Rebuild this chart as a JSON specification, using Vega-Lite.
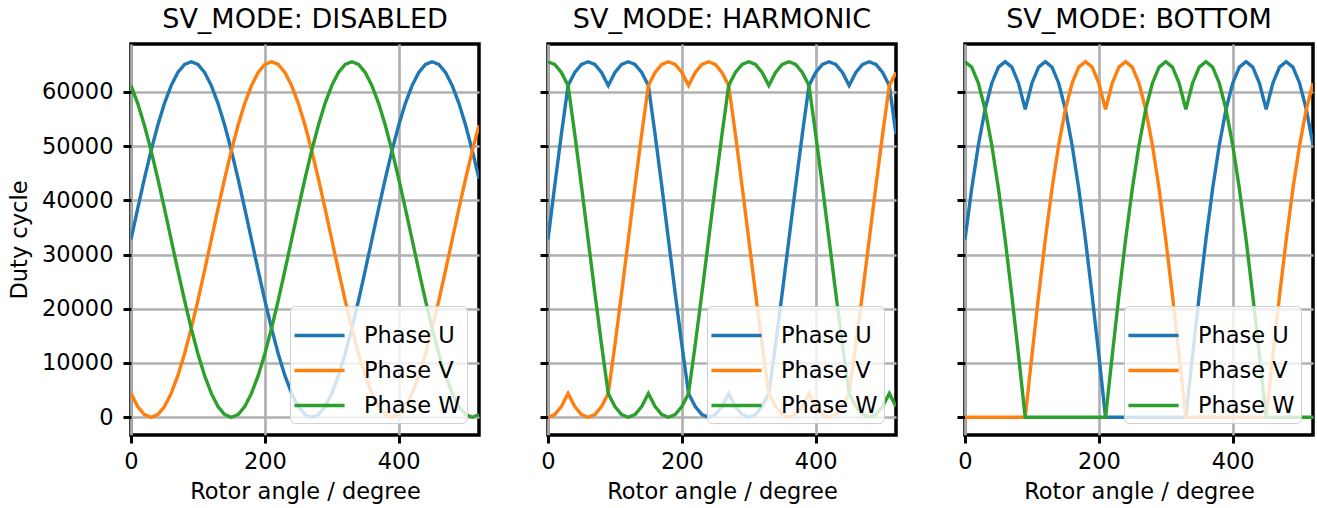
{
"$schema": "https://vega.github.io/schema/vega-lite/v6.json",
"padding": {"left": 6, "top": 4, "right": 3, "bottom": 5},
"config": {
  "font": "DejaVu Sans",
  "view": {"stroke": "black", "strokeWidth": 3.5},
  "axis": {"grid": true, "gridColor": "#b0b0b0", "gridWidth": 2.7, "domain": false, "tickColor": "black", "tickWidth": 3, "tickSize": 8, "labelFontSize": 22.5, "titleFontSize": 22.5, "labelColor": "black", "titleColor": "black", "titleFontWeight": "normal", "labelPadding": 7, "titlePadding": 8, "labelFlush": false},
  "axisY": {"labelPadding": 10, "titlePadding": 10},
  "legend": {"symbolType": "M-1.15,0H1.15", "symbolSize": 1900, "symbolStrokeWidth": 3.4, "labelFontSize": 22.5, "labelColor": "black", "padding": 6, "rowPadding": -7, "strokeColor": "#d0d0d0", "fillColor": "rgba(255,255,255,0.8)", "cornerRadius": 5, "offset": 12, "labelOffset": 21},
  "title": {"fontSize": 27, "fontWeight": "normal", "offset": 10, "color": "black"}
},
"data": {"values": [
{"m":"D","p":"U","x":0,"y":32768},{"m":"D","p":"U","x":10,"y":38458},{"m":"D","p":"U","x":20,"y":43975},{"m":"D","p":"U","x":30,"y":49151},{"m":"D","p":"U","x":40,"y":53830},{"m":"D","p":"U","x":50,"y":57869},{"m":"D","p":"U","x":60,"y":61145},{"m":"D","p":"U","x":70,"y":63559},{"m":"D","p":"U","x":80,"y":65037},{"m":"D","p":"U","x":90,"y":65535},{"m":"D","p":"U","x":100,"y":65037},{"m":"D","p":"U","x":110,"y":63559},{"m":"D","p":"U","x":120,"y":61145},{"m":"D","p":"U","x":130,"y":57869},{"m":"D","p":"U","x":140,"y":53830},{"m":"D","p":"U","x":150,"y":49151},{"m":"D","p":"U","x":160,"y":43975},{"m":"D","p":"U","x":170,"y":38458},{"m":"D","p":"U","x":180,"y":32768},{"m":"D","p":"U","x":190,"y":27077},{"m":"D","p":"U","x":200,"y":21560},{"m":"D","p":"U","x":210,"y":16384},{"m":"D","p":"U","x":220,"y":11705},{"m":"D","p":"U","x":230,"y":7666},{"m":"D","p":"U","x":240,"y":4390},{"m":"D","p":"U","x":250,"y":1976},{"m":"D","p":"U","x":260,"y":498},{"m":"D","p":"U","x":270,"y":0},{"m":"D","p":"U","x":280,"y":498},{"m":"D","p":"U","x":290,"y":1976},{"m":"D","p":"U","x":300,"y":4390},{"m":"D","p":"U","x":310,"y":7666},{"m":"D","p":"U","x":320,"y":11705},{"m":"D","p":"U","x":330,"y":16384},{"m":"D","p":"U","x":340,"y":21560},{"m":"D","p":"U","x":350,"y":27077},{"m":"D","p":"U","x":360,"y":32768},{"m":"D","p":"U","x":370,"y":38458},{"m":"D","p":"U","x":380,"y":43975},{"m":"D","p":"U","x":390,"y":49151},{"m":"D","p":"U","x":400,"y":53830},{"m":"D","p":"U","x":410,"y":57869},{"m":"D","p":"U","x":420,"y":61145},{"m":"D","p":"U","x":430,"y":63559},{"m":"D","p":"U","x":440,"y":65037},{"m":"D","p":"U","x":450,"y":65535},{"m":"D","p":"U","x":460,"y":65037},{"m":"D","p":"U","x":470,"y":63559},{"m":"D","p":"U","x":480,"y":61145},{"m":"D","p":"U","x":490,"y":57869},{"m":"D","p":"U","x":500,"y":53830},{"m":"D","p":"U","x":510,"y":49151},{"m":"D","p":"U","x":520,"y":43975},
{"m":"D","p":"V","x":0,"y":4390},{"m":"D","p":"V","x":10,"y":1976},{"m":"D","p":"V","x":20,"y":498},{"m":"D","p":"V","x":30,"y":0},{"m":"D","p":"V","x":40,"y":498},{"m":"D","p":"V","x":50,"y":1976},{"m":"D","p":"V","x":60,"y":4390},{"m":"D","p":"V","x":70,"y":7666},{"m":"D","p":"V","x":80,"y":11705},{"m":"D","p":"V","x":90,"y":16384},{"m":"D","p":"V","x":100,"y":21560},{"m":"D","p":"V","x":110,"y":27077},{"m":"D","p":"V","x":120,"y":32768},{"m":"D","p":"V","x":130,"y":38458},{"m":"D","p":"V","x":140,"y":43975},{"m":"D","p":"V","x":150,"y":49151},{"m":"D","p":"V","x":160,"y":53830},{"m":"D","p":"V","x":170,"y":57869},{"m":"D","p":"V","x":180,"y":61145},{"m":"D","p":"V","x":190,"y":63559},{"m":"D","p":"V","x":200,"y":65037},{"m":"D","p":"V","x":210,"y":65535},{"m":"D","p":"V","x":220,"y":65037},{"m":"D","p":"V","x":230,"y":63559},{"m":"D","p":"V","x":240,"y":61145},{"m":"D","p":"V","x":250,"y":57869},{"m":"D","p":"V","x":260,"y":53830},{"m":"D","p":"V","x":270,"y":49151},{"m":"D","p":"V","x":280,"y":43975},{"m":"D","p":"V","x":290,"y":38458},{"m":"D","p":"V","x":300,"y":32768},{"m":"D","p":"V","x":310,"y":27077},{"m":"D","p":"V","x":320,"y":21560},{"m":"D","p":"V","x":330,"y":16384},{"m":"D","p":"V","x":340,"y":11705},{"m":"D","p":"V","x":350,"y":7666},{"m":"D","p":"V","x":360,"y":4390},{"m":"D","p":"V","x":370,"y":1976},{"m":"D","p":"V","x":380,"y":498},{"m":"D","p":"V","x":390,"y":0},{"m":"D","p":"V","x":400,"y":498},{"m":"D","p":"V","x":410,"y":1976},{"m":"D","p":"V","x":420,"y":4390},{"m":"D","p":"V","x":430,"y":7666},{"m":"D","p":"V","x":440,"y":11705},{"m":"D","p":"V","x":450,"y":16384},{"m":"D","p":"V","x":460,"y":21560},{"m":"D","p":"V","x":470,"y":27077},{"m":"D","p":"V","x":480,"y":32768},{"m":"D","p":"V","x":490,"y":38458},{"m":"D","p":"V","x":500,"y":43975},{"m":"D","p":"V","x":510,"y":49151},{"m":"D","p":"V","x":520,"y":53830},
{"m":"D","p":"W","x":0,"y":61145},{"m":"D","p":"W","x":10,"y":57869},{"m":"D","p":"W","x":20,"y":53830},{"m":"D","p":"W","x":30,"y":49151},{"m":"D","p":"W","x":40,"y":43975},{"m":"D","p":"W","x":50,"y":38458},{"m":"D","p":"W","x":60,"y":32768},{"m":"D","p":"W","x":70,"y":27077},{"m":"D","p":"W","x":80,"y":21560},{"m":"D","p":"W","x":90,"y":16384},{"m":"D","p":"W","x":100,"y":11705},{"m":"D","p":"W","x":110,"y":7666},{"m":"D","p":"W","x":120,"y":4390},{"m":"D","p":"W","x":130,"y":1976},{"m":"D","p":"W","x":140,"y":498},{"m":"D","p":"W","x":150,"y":0},{"m":"D","p":"W","x":160,"y":498},{"m":"D","p":"W","x":170,"y":1976},{"m":"D","p":"W","x":180,"y":4390},{"m":"D","p":"W","x":190,"y":7666},{"m":"D","p":"W","x":200,"y":11705},{"m":"D","p":"W","x":210,"y":16384},{"m":"D","p":"W","x":220,"y":21560},{"m":"D","p":"W","x":230,"y":27077},{"m":"D","p":"W","x":240,"y":32768},{"m":"D","p":"W","x":250,"y":38458},{"m":"D","p":"W","x":260,"y":43975},{"m":"D","p":"W","x":270,"y":49151},{"m":"D","p":"W","x":280,"y":53830},{"m":"D","p":"W","x":290,"y":57869},{"m":"D","p":"W","x":300,"y":61145},{"m":"D","p":"W","x":310,"y":63559},{"m":"D","p":"W","x":320,"y":65037},{"m":"D","p":"W","x":330,"y":65535},{"m":"D","p":"W","x":340,"y":65037},{"m":"D","p":"W","x":350,"y":63559},{"m":"D","p":"W","x":360,"y":61145},{"m":"D","p":"W","x":370,"y":57869},{"m":"D","p":"W","x":380,"y":53830},{"m":"D","p":"W","x":390,"y":49151},{"m":"D","p":"W","x":400,"y":43975},{"m":"D","p":"W","x":410,"y":38458},{"m":"D","p":"W","x":420,"y":32768},{"m":"D","p":"W","x":430,"y":27077},{"m":"D","p":"W","x":440,"y":21560},{"m":"D","p":"W","x":450,"y":16384},{"m":"D","p":"W","x":460,"y":11705},{"m":"D","p":"W","x":470,"y":7666},{"m":"D","p":"W","x":480,"y":4390},{"m":"D","p":"W","x":490,"y":1976},{"m":"D","p":"W","x":500,"y":498},{"m":"D","p":"W","x":510,"y":0},{"m":"D","p":"W","x":520,"y":498},
{"m":"H","p":"U","x":0,"y":32768},{"m":"H","p":"U","x":10,"y":42623},{"m":"H","p":"U","x":20,"y":52179},{"m":"H","p":"U","x":30,"y":61145},{"m":"H","p":"U","x":40,"y":63559},{"m":"H","p":"U","x":50,"y":65037},{"m":"H","p":"U","x":60,"y":65535},{"m":"H","p":"U","x":70,"y":65037},{"m":"H","p":"U","x":80,"y":63559},{"m":"H","p":"U","x":90,"y":61145},{"m":"H","p":"U","x":100,"y":63559},{"m":"H","p":"U","x":110,"y":65037},{"m":"H","p":"U","x":120,"y":65535},{"m":"H","p":"U","x":130,"y":65037},{"m":"H","p":"U","x":140,"y":63559},{"m":"H","p":"U","x":150,"y":61145},{"m":"H","p":"U","x":160,"y":52179},{"m":"H","p":"U","x":170,"y":42623},{"m":"H","p":"U","x":180,"y":32768},{"m":"H","p":"U","x":190,"y":22912},{"m":"H","p":"U","x":200,"y":13356},{"m":"H","p":"U","x":210,"y":4390},{"m":"H","p":"U","x":220,"y":1976},{"m":"H","p":"U","x":230,"y":498},{"m":"H","p":"U","x":240,"y":0},{"m":"H","p":"U","x":250,"y":498},{"m":"H","p":"U","x":260,"y":1976},{"m":"H","p":"U","x":270,"y":4390},{"m":"H","p":"U","x":280,"y":1976},{"m":"H","p":"U","x":290,"y":498},{"m":"H","p":"U","x":300,"y":0},{"m":"H","p":"U","x":310,"y":498},{"m":"H","p":"U","x":320,"y":1976},{"m":"H","p":"U","x":330,"y":4390},{"m":"H","p":"U","x":340,"y":13356},{"m":"H","p":"U","x":350,"y":22912},{"m":"H","p":"U","x":360,"y":32768},{"m":"H","p":"U","x":370,"y":42623},{"m":"H","p":"U","x":380,"y":52179},{"m":"H","p":"U","x":390,"y":61145},{"m":"H","p":"U","x":400,"y":63559},{"m":"H","p":"U","x":410,"y":65037},{"m":"H","p":"U","x":420,"y":65535},{"m":"H","p":"U","x":430,"y":65037},{"m":"H","p":"U","x":440,"y":63559},{"m":"H","p":"U","x":450,"y":61145},{"m":"H","p":"U","x":460,"y":63559},{"m":"H","p":"U","x":470,"y":65037},{"m":"H","p":"U","x":480,"y":65535},{"m":"H","p":"U","x":490,"y":65037},{"m":"H","p":"U","x":500,"y":63559},{"m":"H","p":"U","x":510,"y":61145},{"m":"H","p":"U","x":520,"y":52179},
{"m":"H","p":"V","x":0,"y":0},{"m":"H","p":"V","x":10,"y":498},{"m":"H","p":"V","x":20,"y":1976},{"m":"H","p":"V","x":30,"y":4390},{"m":"H","p":"V","x":40,"y":1976},{"m":"H","p":"V","x":50,"y":498},{"m":"H","p":"V","x":60,"y":0},{"m":"H","p":"V","x":70,"y":498},{"m":"H","p":"V","x":80,"y":1976},{"m":"H","p":"V","x":90,"y":4390},{"m":"H","p":"V","x":100,"y":13356},{"m":"H","p":"V","x":110,"y":22912},{"m":"H","p":"V","x":120,"y":32768},{"m":"H","p":"V","x":130,"y":42623},{"m":"H","p":"V","x":140,"y":52179},{"m":"H","p":"V","x":150,"y":61145},{"m":"H","p":"V","x":160,"y":63559},{"m":"H","p":"V","x":170,"y":65037},{"m":"H","p":"V","x":180,"y":65535},{"m":"H","p":"V","x":190,"y":65037},{"m":"H","p":"V","x":200,"y":63559},{"m":"H","p":"V","x":210,"y":61145},{"m":"H","p":"V","x":220,"y":63559},{"m":"H","p":"V","x":230,"y":65037},{"m":"H","p":"V","x":240,"y":65535},{"m":"H","p":"V","x":250,"y":65037},{"m":"H","p":"V","x":260,"y":63559},{"m":"H","p":"V","x":270,"y":61145},{"m":"H","p":"V","x":280,"y":52179},{"m":"H","p":"V","x":290,"y":42623},{"m":"H","p":"V","x":300,"y":32768},{"m":"H","p":"V","x":310,"y":22912},{"m":"H","p":"V","x":320,"y":13356},{"m":"H","p":"V","x":330,"y":4390},{"m":"H","p":"V","x":340,"y":1976},{"m":"H","p":"V","x":350,"y":498},{"m":"H","p":"V","x":360,"y":0},{"m":"H","p":"V","x":370,"y":498},{"m":"H","p":"V","x":380,"y":1976},{"m":"H","p":"V","x":390,"y":4390},{"m":"H","p":"V","x":400,"y":1976},{"m":"H","p":"V","x":410,"y":498},{"m":"H","p":"V","x":420,"y":0},{"m":"H","p":"V","x":430,"y":498},{"m":"H","p":"V","x":440,"y":1976},{"m":"H","p":"V","x":450,"y":4390},{"m":"H","p":"V","x":460,"y":13356},{"m":"H","p":"V","x":470,"y":22912},{"m":"H","p":"V","x":480,"y":32768},{"m":"H","p":"V","x":490,"y":42623},{"m":"H","p":"V","x":500,"y":52179},{"m":"H","p":"V","x":510,"y":61145},{"m":"H","p":"V","x":520,"y":63559},
{"m":"H","p":"W","x":0,"y":65535},{"m":"H","p":"W","x":10,"y":65037},{"m":"H","p":"W","x":20,"y":63559},{"m":"H","p":"W","x":30,"y":61145},{"m":"H","p":"W","x":40,"y":52179},{"m":"H","p":"W","x":50,"y":42623},{"m":"H","p":"W","x":60,"y":32768},{"m":"H","p":"W","x":70,"y":22912},{"m":"H","p":"W","x":80,"y":13356},{"m":"H","p":"W","x":90,"y":4390},{"m":"H","p":"W","x":100,"y":1976},{"m":"H","p":"W","x":110,"y":498},{"m":"H","p":"W","x":120,"y":0},{"m":"H","p":"W","x":130,"y":498},{"m":"H","p":"W","x":140,"y":1976},{"m":"H","p":"W","x":150,"y":4390},{"m":"H","p":"W","x":160,"y":1976},{"m":"H","p":"W","x":170,"y":498},{"m":"H","p":"W","x":180,"y":0},{"m":"H","p":"W","x":190,"y":498},{"m":"H","p":"W","x":200,"y":1976},{"m":"H","p":"W","x":210,"y":4390},{"m":"H","p":"W","x":220,"y":13356},{"m":"H","p":"W","x":230,"y":22912},{"m":"H","p":"W","x":240,"y":32768},{"m":"H","p":"W","x":250,"y":42623},{"m":"H","p":"W","x":260,"y":52179},{"m":"H","p":"W","x":270,"y":61145},{"m":"H","p":"W","x":280,"y":63559},{"m":"H","p":"W","x":290,"y":65037},{"m":"H","p":"W","x":300,"y":65535},{"m":"H","p":"W","x":310,"y":65037},{"m":"H","p":"W","x":320,"y":63559},{"m":"H","p":"W","x":330,"y":61145},{"m":"H","p":"W","x":340,"y":63559},{"m":"H","p":"W","x":350,"y":65037},{"m":"H","p":"W","x":360,"y":65535},{"m":"H","p":"W","x":370,"y":65037},{"m":"H","p":"W","x":380,"y":63559},{"m":"H","p":"W","x":390,"y":61145},{"m":"H","p":"W","x":400,"y":52179},{"m":"H","p":"W","x":410,"y":42623},{"m":"H","p":"W","x":420,"y":32768},{"m":"H","p":"W","x":430,"y":22912},{"m":"H","p":"W","x":440,"y":13356},{"m":"H","p":"W","x":450,"y":4390},{"m":"H","p":"W","x":460,"y":1976},{"m":"H","p":"W","x":470,"y":498},{"m":"H","p":"W","x":480,"y":0},{"m":"H","p":"W","x":490,"y":498},{"m":"H","p":"W","x":500,"y":1976},{"m":"H","p":"W","x":510,"y":4390},{"m":"H","p":"W","x":520,"y":1976},
{"m":"B","p":"U","x":0,"y":32768},{"m":"B","p":"U","x":10,"y":42125},{"m":"B","p":"U","x":20,"y":50203},{"m":"B","p":"U","x":30,"y":56755},{"m":"B","p":"U","x":40,"y":61583},{"m":"B","p":"U","x":50,"y":64539},{"m":"B","p":"U","x":60,"y":65535},{"m":"B","p":"U","x":70,"y":64539},{"m":"B","p":"U","x":80,"y":61583},{"m":"B","p":"U","x":90,"y":56755},{"m":"B","p":"U","x":100,"y":61583},{"m":"B","p":"U","x":110,"y":64539},{"m":"B","p":"U","x":120,"y":65535},{"m":"B","p":"U","x":130,"y":64539},{"m":"B","p":"U","x":140,"y":61583},{"m":"B","p":"U","x":150,"y":56755},{"m":"B","p":"U","x":160,"y":50203},{"m":"B","p":"U","x":170,"y":42125},{"m":"B","p":"U","x":180,"y":32768},{"m":"B","p":"U","x":190,"y":22414},{"m":"B","p":"U","x":200,"y":11380},{"m":"B","p":"U","x":210,"y":0},{"m":"B","p":"U","x":220,"y":0},{"m":"B","p":"U","x":230,"y":0},{"m":"B","p":"U","x":240,"y":0},{"m":"B","p":"U","x":250,"y":0},{"m":"B","p":"U","x":260,"y":0},{"m":"B","p":"U","x":270,"y":0},{"m":"B","p":"U","x":280,"y":0},{"m":"B","p":"U","x":290,"y":0},{"m":"B","p":"U","x":300,"y":0},{"m":"B","p":"U","x":310,"y":0},{"m":"B","p":"U","x":320,"y":0},{"m":"B","p":"U","x":330,"y":0},{"m":"B","p":"U","x":340,"y":11380},{"m":"B","p":"U","x":350,"y":22414},{"m":"B","p":"U","x":360,"y":32768},{"m":"B","p":"U","x":370,"y":42125},{"m":"B","p":"U","x":380,"y":50203},{"m":"B","p":"U","x":390,"y":56755},{"m":"B","p":"U","x":400,"y":61583},{"m":"B","p":"U","x":410,"y":64539},{"m":"B","p":"U","x":420,"y":65535},{"m":"B","p":"U","x":430,"y":64539},{"m":"B","p":"U","x":440,"y":61583},{"m":"B","p":"U","x":450,"y":56755},{"m":"B","p":"U","x":460,"y":61583},{"m":"B","p":"U","x":470,"y":64539},{"m":"B","p":"U","x":480,"y":65535},{"m":"B","p":"U","x":490,"y":64539},{"m":"B","p":"U","x":500,"y":61583},{"m":"B","p":"U","x":510,"y":56755},{"m":"B","p":"U","x":520,"y":50203},
{"m":"B","p":"V","x":0,"y":0},{"m":"B","p":"V","x":10,"y":0},{"m":"B","p":"V","x":20,"y":0},{"m":"B","p":"V","x":30,"y":0},{"m":"B","p":"V","x":40,"y":0},{"m":"B","p":"V","x":50,"y":0},{"m":"B","p":"V","x":60,"y":0},{"m":"B","p":"V","x":70,"y":0},{"m":"B","p":"V","x":80,"y":0},{"m":"B","p":"V","x":90,"y":0},{"m":"B","p":"V","x":100,"y":11380},{"m":"B","p":"V","x":110,"y":22414},{"m":"B","p":"V","x":120,"y":32768},{"m":"B","p":"V","x":130,"y":42125},{"m":"B","p":"V","x":140,"y":50203},{"m":"B","p":"V","x":150,"y":56755},{"m":"B","p":"V","x":160,"y":61583},{"m":"B","p":"V","x":170,"y":64539},{"m":"B","p":"V","x":180,"y":65535},{"m":"B","p":"V","x":190,"y":64539},{"m":"B","p":"V","x":200,"y":61583},{"m":"B","p":"V","x":210,"y":56755},{"m":"B","p":"V","x":220,"y":61583},{"m":"B","p":"V","x":230,"y":64539},{"m":"B","p":"V","x":240,"y":65535},{"m":"B","p":"V","x":250,"y":64539},{"m":"B","p":"V","x":260,"y":61583},{"m":"B","p":"V","x":270,"y":56755},{"m":"B","p":"V","x":280,"y":50203},{"m":"B","p":"V","x":290,"y":42125},{"m":"B","p":"V","x":300,"y":32768},{"m":"B","p":"V","x":310,"y":22414},{"m":"B","p":"V","x":320,"y":11380},{"m":"B","p":"V","x":330,"y":0},{"m":"B","p":"V","x":340,"y":0},{"m":"B","p":"V","x":350,"y":0},{"m":"B","p":"V","x":360,"y":0},{"m":"B","p":"V","x":370,"y":0},{"m":"B","p":"V","x":380,"y":0},{"m":"B","p":"V","x":390,"y":0},{"m":"B","p":"V","x":400,"y":0},{"m":"B","p":"V","x":410,"y":0},{"m":"B","p":"V","x":420,"y":0},{"m":"B","p":"V","x":430,"y":0},{"m":"B","p":"V","x":440,"y":0},{"m":"B","p":"V","x":450,"y":0},{"m":"B","p":"V","x":460,"y":11380},{"m":"B","p":"V","x":470,"y":22414},{"m":"B","p":"V","x":480,"y":32768},{"m":"B","p":"V","x":490,"y":42125},{"m":"B","p":"V","x":500,"y":50203},{"m":"B","p":"V","x":510,"y":56755},{"m":"B","p":"V","x":520,"y":61583},
{"m":"B","p":"W","x":0,"y":65535},{"m":"B","p":"W","x":10,"y":64539},{"m":"B","p":"W","x":20,"y":61583},{"m":"B","p":"W","x":30,"y":56755},{"m":"B","p":"W","x":40,"y":50203},{"m":"B","p":"W","x":50,"y":42125},{"m":"B","p":"W","x":60,"y":32768},{"m":"B","p":"W","x":70,"y":22414},{"m":"B","p":"W","x":80,"y":11380},{"m":"B","p":"W","x":90,"y":0},{"m":"B","p":"W","x":100,"y":0},{"m":"B","p":"W","x":110,"y":0},{"m":"B","p":"W","x":120,"y":0},{"m":"B","p":"W","x":130,"y":0},{"m":"B","p":"W","x":140,"y":0},{"m":"B","p":"W","x":150,"y":0},{"m":"B","p":"W","x":160,"y":0},{"m":"B","p":"W","x":170,"y":0},{"m":"B","p":"W","x":180,"y":0},{"m":"B","p":"W","x":190,"y":0},{"m":"B","p":"W","x":200,"y":0},{"m":"B","p":"W","x":210,"y":0},{"m":"B","p":"W","x":220,"y":11380},{"m":"B","p":"W","x":230,"y":22414},{"m":"B","p":"W","x":240,"y":32768},{"m":"B","p":"W","x":250,"y":42125},{"m":"B","p":"W","x":260,"y":50203},{"m":"B","p":"W","x":270,"y":56755},{"m":"B","p":"W","x":280,"y":61583},{"m":"B","p":"W","x":290,"y":64539},{"m":"B","p":"W","x":300,"y":65535},{"m":"B","p":"W","x":310,"y":64539},{"m":"B","p":"W","x":320,"y":61583},{"m":"B","p":"W","x":330,"y":56755},{"m":"B","p":"W","x":340,"y":61583},{"m":"B","p":"W","x":350,"y":64539},{"m":"B","p":"W","x":360,"y":65535},{"m":"B","p":"W","x":370,"y":64539},{"m":"B","p":"W","x":380,"y":61583},{"m":"B","p":"W","x":390,"y":56755},{"m":"B","p":"W","x":400,"y":50203},{"m":"B","p":"W","x":410,"y":42125},{"m":"B","p":"W","x":420,"y":32768},{"m":"B","p":"W","x":430,"y":22414},{"m":"B","p":"W","x":440,"y":11380},{"m":"B","p":"W","x":450,"y":0},{"m":"B","p":"W","x":460,"y":0},{"m":"B","p":"W","x":470,"y":0},{"m":"B","p":"W","x":480,"y":0},{"m":"B","p":"W","x":490,"y":0},{"m":"B","p":"W","x":500,"y":0},{"m":"B","p":"W","x":510,"y":0},{"m":"B","p":"W","x":520,"y":0}
]},
"spacing": 55,
"resolve": {"scale": {"color": "independent"}, "legend": {"color": "independent"}},
"hconcat": [
  {
    "title": "SV_MODE: DISABLED",
    "width": 348, "height": 391,
    "transform": [{"filter": "datum.m == 'D'"}],
    "mark": {"type": "line", "strokeWidth": 3.4, "clip": true},
    "encoding": {
      "x": {"field": "x", "type": "quantitative", "scale": {"domain": [0, 520], "nice": false, "zero": false}, "axis": {"values": [0, 200, 400], "title": "Rotor angle / degree"}},
      "y": {"field": "y", "type": "quantitative", "scale": {"domain": [-3277, 68812], "nice": false, "zero": false}, "axis": {"values": [0, 10000, 20000, 30000, 40000, 50000, 60000], "format": "d", "title": "Duty cycle"}},
      "color": {"field": "p", "type": "nominal", "scale": {"domain": ["U", "V", "W"], "range": ["#1f77b4", "#ff7f0e", "#2ca02c"]}, "legend": {"orient": "bottom-right", "title": null, "labelExpr": "'Phase ' + datum.label"}}
    }
  },
  {
    "title": "SV_MODE: HARMONIC",
    "width": 348, "height": 391,
    "transform": [{"filter": "datum.m == 'H'"}],
    "mark": {"type": "line", "strokeWidth": 3.4, "clip": true},
    "encoding": {
      "x": {"field": "x", "type": "quantitative", "scale": {"domain": [0, 520], "nice": false, "zero": false}, "axis": {"values": [0, 200, 400], "title": "Rotor angle / degree"}},
      "y": {"field": "y", "type": "quantitative", "scale": {"domain": [-3277, 68812], "nice": false, "zero": false}, "axis": {"values": [0, 10000, 20000, 30000, 40000, 50000, 60000], "labels": false, "title": null}},
      "color": {"field": "p", "type": "nominal", "scale": {"domain": ["U", "V", "W"], "range": ["#1f77b4", "#ff7f0e", "#2ca02c"]}, "legend": {"orient": "bottom-right", "title": null, "labelExpr": "'Phase ' + datum.label"}}
    }
  },
  {
    "title": "SV_MODE: BOTTOM",
    "width": 348, "height": 391,
    "transform": [{"filter": "datum.m == 'B'"}],
    "mark": {"type": "line", "strokeWidth": 3.4, "clip": true},
    "encoding": {
      "x": {"field": "x", "type": "quantitative", "scale": {"domain": [0, 520], "nice": false, "zero": false}, "axis": {"values": [0, 200, 400], "title": "Rotor angle / degree"}},
      "y": {"field": "y", "type": "quantitative", "scale": {"domain": [-3277, 68812], "nice": false, "zero": false}, "axis": {"values": [0, 10000, 20000, 30000, 40000, 50000, 60000], "labels": false, "title": null}},
      "color": {"field": "p", "type": "nominal", "scale": {"domain": ["U", "V", "W"], "range": ["#1f77b4", "#ff7f0e", "#2ca02c"]}, "legend": {"orient": "bottom-right", "title": null, "labelExpr": "'Phase ' + datum.label"}}
    }
  }
]
}
